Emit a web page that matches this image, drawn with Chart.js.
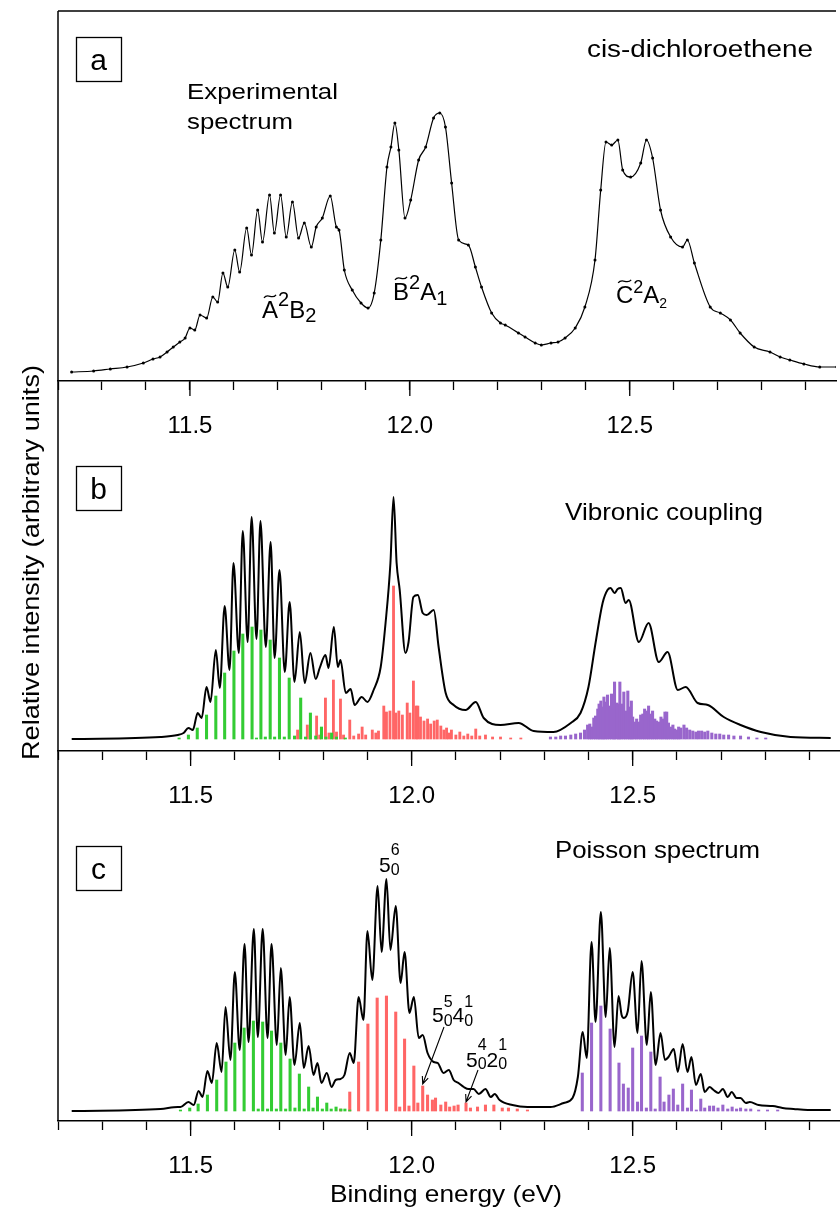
<!DOCTYPE html>
<html>
<head>
<meta charset="utf-8">
<script src="https://cdn.jsdelivr.net/npm/chart.js@4/dist/chart.umd.min.js"></script>
<style>
html, body { margin: 0; padding: 0; background: #fff; }
#wrap { position: relative; width: 840px; height: 1211px; }
#wrap canvas { position: absolute; left: 0; top: 0; }
</style>
</head>
<body>
<div id="wrap">
  <canvas id="chartA" width="840" height="1211"></canvas>
  <canvas id="chartB" width="840" height="1211"></canvas>
  <canvas id="chartC" width="840" height="1211"></canvas>
</div>
<script>
// binding energy (eV) ticks
var majorTicks = [11.5, 12.0, 12.5];

// (a) experimental spectrum
var expEnergy = [11.231,11.281,11.319,11.357,11.394,11.416,11.432,11.448,11.462,11.477,11.489,11.500,11.511,11.523,11.538,11.552,11.563,11.575,11.586,11.602,11.613,11.629,11.640,11.654,11.665,11.681,11.692,11.706,11.719,11.733,11.747,11.760,11.776,11.787,11.801,11.819,11.833,11.839,11.851,11.869,11.889,11.905,11.919,11.934,11.948,11.957,11.966,11.975,11.989,12.002,12.020,12.036,12.054,12.068,12.081,12.095,12.111,12.133,12.149,12.163,12.186,12.206,12.217,12.247,12.262,12.285,12.299,12.321,12.337,12.353,12.376,12.398,12.421,12.434,12.446,12.459,12.473,12.484,12.502,12.525,12.538,12.552,12.570,12.593,12.620,12.631,12.647,12.683,12.706,12.729,12.751,12.783,12.819,12.842,12.864,12.896,12.932,12.971];
var expSignal = [9,10,12,14,18,22,24,29,34,39,43,53,51,66,63,84,79,108,94,131,109,153,126,171,139,186,148,186,144,179,143,158,134,154,163,185,154,151,111,91,78,73,88,141,214,234,258,231,163,181,221,234,263,268,254,198,141,136,114,94,68,58,56,48,44,38,36,38,39,43,53,74,121,191,239,236,241,211,204,218,241,223,171,144,134,141,118,74,68,61,48,34,29,24,21,17,14,14];

// (b) vibronic coupling
var vcEnergy = [11.231,11.432,11.471,11.484,11.495,11.505,11.516,11.525,11.536,11.545,11.557,11.566,11.577,11.588,11.597,11.609,11.618,11.629,11.638,11.649,11.658,11.670,11.681,11.690,11.701,11.713,11.724,11.735,11.747,11.758,11.771,11.783,11.792,11.805,11.812,11.824,11.833,11.839,11.851,11.862,11.871,11.887,11.900,11.914,11.930,11.941,11.952,11.959,11.966,11.973,11.986,11.993,12.004,12.014,12.025,12.034,12.050,12.061,12.077,12.095,12.122,12.145,12.163,12.201,12.242,12.276,12.321,12.360,12.382,12.400,12.416,12.432,12.443,12.450,12.459,12.466,12.473,12.484,12.491,12.514,12.536,12.559,12.579,12.602,12.620,12.647,12.670,12.706,12.744,12.790,12.857,12.948];
var vcEnvelope = [0,2,4,6,11,9,26,21,52,37,89,51,133,69,176,86,208,97,222,100,218,92,197,81,169,67,137,57,107,56,86,60,71,84,71,112,72,79,46,50,34,42,37,49,72,116,176,242,176,149,86,97,142,144,126,124,129,92,46,34,29,37,21,14,16,8,7,16,26,52,96,136,149,151,146,150,151,136,139,97,116,77,87,49,52,36,34,22,14,7,2,1];
var vcGreenE = [11.474,11.495,11.515,11.536,11.557,11.577,11.598,11.618,11.639,11.649,11.659,11.669,11.680,11.690,11.701,11.712,11.723,11.735,11.749,11.760,11.771,11.783,11.796,11.806,11.819,11.830,11.850];
var vcGreenH = [1,4,11,24,43,66,88,105,112,1,109,2,99,2,81,2,61,3,41,2,26,3,12,2,6,2,1];
var vcRedE = [11.742,11.764,11.771,11.785,11.792,11.805,11.813,11.823,11.830,11.839,11.846,11.860,11.869,11.880,11.888,11.896,11.911,11.919,11.925,11.937,11.943,11.951,11.959,11.964,11.971,11.979,11.990,11.996,12.004,12.010,12.014,12.020,12.028,12.036,12.043,12.051,12.058,12.066,12.073,12.079,12.084,12.090,12.100,12.109,12.118,12.127,12.136,12.145,12.154,12.167,12.183,12.201,12.224,12.247];
var vcRedH = [9,14,3,23,4,41,6,59,7,40,4,19,3,5,12,4,9,6,8,33,27,28,153,26,28,24,36,26,58,33,33,22,18,20,15,18,19,13,9,11,6,9,4,7,3,5,3,10,3,4,2,2,1,1];
var vcPurpleE = [12.314,12.326,12.337,12.348,12.360,12.371,12.382,12.391,12.398,12.403,12.407,12.412,12.416,12.421,12.424,12.428,12.432,12.435,12.439,12.443,12.448,12.452,12.457,12.459,12.464,12.468,12.471,12.475,12.480,12.484,12.489,12.493,12.497,12.500,12.505,12.509,12.514,12.518,12.523,12.527,12.532,12.536,12.541,12.545,12.550,12.554,12.559,12.564,12.568,12.573,12.577,12.581,12.586,12.591,12.595,12.600,12.604,12.609,12.616,12.622,12.629,12.636,12.643,12.649,12.656,12.663,12.670,12.679,12.688,12.697,12.706,12.717,12.729,12.744,12.762,12.781,12.801];
var vcPurpleH = [2,2,3,3,4,5,6,9,14,15,12,21,23,30,35,38,32,42,37,44,33,45,34,57,36,35,57,35,47,28,48,32,38,22,17,20,17,24,25,30,28,33,25,28,20,18,17,22,20,27,27,16,12,14,10,9,12,11,14,11,9,8,7,8,8,7,8,6,5,5,4,4,3,3,2,1,1];

// (c) Poisson spectrum
var psEnergy = [11.231,11.432,11.471,11.477,11.495,11.507,11.518,11.527,11.538,11.548,11.559,11.570,11.579,11.590,11.600,11.611,11.622,11.631,11.643,11.652,11.663,11.674,11.683,11.695,11.704,11.715,11.724,11.735,11.747,11.756,11.767,11.778,11.787,11.796,11.808,11.819,11.828,11.839,11.848,11.860,11.869,11.880,11.891,11.900,11.911,11.923,11.932,11.943,11.952,11.964,11.975,11.984,11.995,12.005,12.016,12.025,12.036,12.050,12.059,12.072,12.084,12.095,12.106,12.118,12.129,12.140,12.152,12.167,12.179,12.188,12.199,12.228,12.262,12.314,12.344,12.364,12.376,12.387,12.396,12.407,12.416,12.428,12.439,12.448,12.459,12.468,12.475,12.480,12.489,12.500,12.511,12.520,12.532,12.541,12.552,12.563,12.573,12.581,12.593,12.602,12.613,12.624,12.633,12.643,12.654,12.663,12.674,12.683,12.694,12.704,12.715,12.724,12.735,12.744,12.756,12.765,12.785,12.817,12.839,12.864,12.896,12.948];
var psEnvelope = [0,2,4,4,9,6,20,14,40,28,68,39,104,51,139,61,167,69,182,74,182,73,167,66,143,56,114,46,88,43,65,36,48,28,38,24,31,32,36,58,48,114,91,180,131,225,159,232,161,205,128,159,98,114,73,76,58,49,48,38,41,31,28,24,22,22,17,22,14,17,11,6,4,4,8,13,34,79,53,169,89,199,94,163,64,115,96,93,100,139,78,150,66,119,46,78,51,54,62,39,67,39,54,26,37,19,24,21,18,22,14,19,13,13,8,9,6,5,3,2,1,1];
var psGreenE = [11.477,11.498,11.517,11.538,11.559,11.580,11.600,11.621,11.642,11.653,11.663,11.674,11.683,11.694,11.704,11.715,11.725,11.736,11.746,11.757,11.767,11.777,11.787,11.798,11.808,11.818,11.829,11.840,11.849,11.860];
var psGreenH = [1,3,7,16,31,49,68,83,90,2,89,2,80,2,68,2,52,3,37,2,24,3,14,2,8,2,4,2,2,1];
var psRedE = [11.839,11.860,11.880,11.901,11.922,11.943,11.964,11.973,11.984,11.994,12.005,12.014,12.025,12.036,12.047,12.054,12.066,12.077,12.086,12.096,12.105,12.123,12.133,12.149,12.167,12.186,12.205,12.219,12.239,12.262];
var psRedH = [2,19,49,87,113,115,99,4,72,5,45,8,25,16,11,13,6,9,4,5,6,8,3,4,6,6,3,3,2,1];
var psPurpleE = [12.386,12.407,12.428,12.449,12.469,12.479,12.490,12.500,12.511,12.520,12.531,12.541,12.551,12.562,12.571,12.582,12.592,12.602,12.613,12.624,12.633,12.644,12.654,12.663,12.674,12.683,12.693,12.704,12.715,12.725,12.735,12.744,12.756,12.767,12.785,12.805,12.828];
var psPurpleH = [38,88,105,82,48,27,23,63,9,75,3,59,2,34,9,16,22,6,27,3,21,1,12,3,5,5,3,6,2,4,2,3,2,2,1,1,1];

var FONT = '"Liberation Sans", Arial, Helvetica, sans-serif';
var GREEN = '#33cc33', RED = '#ff6666', PURPLE = '#9966cc';

function pts(xs, ys) {
    return xs.map(function (x, i) { return { x: x, y: ys[i] }; });
}

function sticks(xs, ys, color, w) {
    return { type: 'bar', data: pts(xs, ys), backgroundColor: color, borderWidth: 0,
        barThickness: w, grouped: false, order: 2 };
}

function envelope(xs, ys) {
    return { type: 'line', data: pts(xs, ys), borderColor: '#000', borderWidth: 2,
        pointRadius: 0, cubicInterpolationMode: 'monotone', fill: false, order: 1 };
}

function fitText(ctx, s, x, y, size, width) {
    ctx.save();
    ctx.font = size + 'px ' + FONT;
    ctx.fillStyle = '#000';
    ctx.textAlign = 'left';
    ctx.textBaseline = 'alphabetic';
    var w = ctx.measureText(s).width;
    ctx.translate(x, y);
    ctx.scale(width / w, 1);
    ctx.fillText(s, 0, 0);
    ctx.restore();
}

function tilde(ctx, cx, cy, w) {
    ctx.lineWidth = 1.3;
    ctx.beginPath();
    ctx.moveTo(cx - w / 2, cy + 1.5);
    ctx.bezierCurveTo(cx - w / 6, cy - 4, cx + w / 6, cy + 4, cx + w / 2, cy - 1.5);
    ctx.stroke();
}

// segs: [text, size, dy, noAdvance, tilde]
function rich(ctx, x, y, segs) {
    ctx.save();
    ctx.fillStyle = '#000';
    ctx.strokeStyle = '#000';
    ctx.textAlign = 'left';
    ctx.textBaseline = 'alphabetic';
    segs.forEach(function (g) {
        ctx.font = g[1] + 'px ' + FONT;
        var w = ctx.measureText(g[0]).width;
        ctx.fillText(g[0], x, y + (g[2] || 0));
        if (g[4]) tilde(ctx, x + w / 2, y - g[1] * 0.716 - 4.5, w * 0.75);
        if (!g[3]) x += w;
    });
    ctx.restore();
}

function letterBox(ctx, s, top) {
    ctx.save();
    ctx.strokeStyle = '#000';
    ctx.lineWidth = 1.3;
    ctx.strokeRect(76.5, top + 0.5, 45, 44);
    ctx.fillStyle = '#000';
    ctx.font = '30px ' + FONT;
    ctx.textAlign = 'center';
    ctx.textBaseline = 'alphabetic';
    ctx.fillText(s, 98.5, top + 33);
    ctx.restore();
}

function arrow(ctx, x1, y1, x2, y2) {
    var ang = Math.atan2(y2 - y1, x2 - x1), L = 8;
    ctx.save();
    ctx.strokeStyle = '#000';
    ctx.lineWidth = 1.1;
    ctx.beginPath();
    ctx.moveTo(x1, y1);
    ctx.lineTo(x2, y2);
    ctx.moveTo(x2 - L * Math.cos(ang - 0.4), y2 - L * Math.sin(ang - 0.4));
    ctx.lineTo(x2, y2);
    ctx.lineTo(x2 - L * Math.cos(ang + 0.4), y2 - L * Math.sin(ang + 0.4));
    ctx.stroke();
    ctx.restore();
}

var framePlugin = {
    id: 'frame',
    afterDraw: function (chart) {
        var ctx = chart.ctx, a = chart.chartArea, sx = chart.scales.x;
        ctx.save();
        ctx.strokeStyle = '#000';
        ctx.lineWidth = 1.5;
        ctx.beginPath();
        ctx.moveTo(a.left, a.top);
        ctx.lineTo(a.left, a.bottom);
        ctx.stroke();
        ctx.lineWidth = 1.3;
        majorTicks.forEach(function (v) {
            var px = sx.getPixelForValue(v);
            ctx.beginPath();
            ctx.moveTo(px, a.bottom);
            ctx.lineTo(px, a.bottom + 15);
            ctx.stroke();
        });
        ctx.restore();
    }
};

function makeOptions(top, bottomPad, ymin, ymax) {
    return {
        responsive: false,
        animation: false,
        devicePixelRatio: 1,
        events: [],
        layout: { padding: { left: 58, right: 0, top: top, bottom: bottomPad } },
        plugins: { legend: { display: false }, tooltip: { enabled: false } },
        scales: {
            x: {
                type: 'linear', min: 11.2, max: 12.969, offset: false,
                afterFit: function (s) { s.height = 60; },
                ticks: {
                    stepSize: 0.1, includeBounds: false, autoSkip: false, maxRotation: 0,
                    maxTicksLimit: 100, padding: 22, color: '#000',
                    font: { family: FONT, size: 24 },
                    callback: function (v) {
                        var m = Math.round(v * 10);
                        return m % 5 === 0 ? (m / 10).toFixed(1) : '';
                    }
                },
                grid: { drawOnChartArea: false, drawTicks: true, tickLength: 9,
                    tickColor: '#000', tickWidth: 1.3, offset: false },
                border: { display: true, color: '#000', width: 1.5 }
            },
            y: { display: false, min: ymin, max: ymax }
        }
    };
}

// panel a
new Chart(document.getElementById('chartA'), {
    type: 'line',
    data: {
        datasets: [{
            data: pts(expEnergy, expSignal), borderColor: '#000', borderWidth: 1.2,
            pointRadius: 1.5, pointBackgroundColor: '#000', pointBorderColor: '#000',
            pointBorderWidth: 0, cubicInterpolationMode: 'monotone', fill: false
        }]
    },
    options: makeOptions(11, 770, 0, 370),
    plugins: [framePlugin, {
        id: 'panelA',
        afterDraw: function (chart) {
            var ctx = chart.ctx, a = chart.chartArea;
            ctx.save();
            ctx.strokeStyle = '#000';
            ctx.lineWidth = 1.5;
            ctx.beginPath();
            ctx.moveTo(a.left, a.top);
            ctx.lineTo(a.right, a.top);
            ctx.stroke();
            ctx.restore();
            letterBox(ctx, 'a', 37);
            fitText(ctx, 'Experimental', 187, 99, 22, 151);
            fitText(ctx, 'spectrum', 187, 129, 22, 106);
            fitText(ctx, 'cis-dichloroethene', 587, 57, 23, 226);
            rich(ctx, 262, 318, [['A', 24, 0, false, true], ['2', 20, -12], ['B', 24], ['2', 20, 4]]);
            rich(ctx, 393, 300, [['B', 24, 0, false, true], ['2', 20, -11], ['A', 24], ['1', 20, 5]]);
            rich(ctx, 616, 303, [['C', 24, 0, false, true], ['2', 18, -10], ['A', 24], ['2', 14, 5]]);
        }
    }]
});

// panel b
new Chart(document.getElementById('chartB'), {
    type: 'line',
    data: {
        datasets: [
            envelope(vcEnergy, vcEnvelope),
            sticks(vcGreenE, vcGreenH, GREEN, 2.4),
            sticks(vcRedE, vcRedH, RED, 2.2),
            sticks(vcPurpleE, vcPurpleH, PURPLE, 2.4)
        ]
    },
    options: makeOptions(381, 400, -12, 358),
    plugins: [framePlugin, {
        id: 'panelB',
        afterDraw: function (chart) {
            var ctx = chart.ctx;
            letterBox(ctx, 'b', 466);
            fitText(ctx, 'Vibronic coupling', 565, 520, 24, 198);
            ctx.save();
            ctx.translate(39, 562.5);
            ctx.rotate(-Math.PI / 2);
            fitText(ctx, 'Relative intensity (arbitrary units)', -197.5, 0, 24, 395);
            ctx.restore();
        }
    }]
});

// panel c
new Chart(document.getElementById('chartC'), {
    type: 'line',
    data: {
        datasets: [
            envelope(psEnergy, psEnvelope),
            sticks(psGreenE, psGreenH, GREEN, 2.4),
            sticks(psRedE, psRedH, RED, 2.4),
            sticks(psPurpleE, psPurpleH, PURPLE, 2.4)
        ]
    },
    options: makeOptions(751, 30, -10, 360),
    plugins: [framePlugin, {
        id: 'panelC',
        afterDraw: function (chart) {
            var ctx = chart.ctx, sx = chart.scales.x, sy = chart.scales.y;
            letterBox(ctx, 'c', 846);
            fitText(ctx, 'Poisson spectrum', 555, 858, 24, 205);
            rich(ctx, 379, 872, [['5', 21], ['6', 16, -17, true], ['0', 16, 3]]);
            rich(ctx, 432, 1022, [['5', 21], ['5', 16, -15, true], ['0', 16, 4], ['4', 21], ['1', 16, -15, true], ['0', 16, 4]]);
            rich(ctx, 466, 1067, [['5', 21], ['4', 16, -17, true], ['0', 16, 2], ['2', 21], ['1', 16, -17, true], ['0', 16, 2]]);
            arrow(ctx, 444, 1027, sx.getPixelForValue(12.025), sy.getPixelForValue(27));
            arrow(ctx, 478, 1070, sx.getPixelForValue(12.123), sy.getPixelForValue(9));
            fitText(ctx, 'Binding energy (eV)', 330, 1202, 24, 232);
        }
    }]
});
</script>
</body>
</html>
